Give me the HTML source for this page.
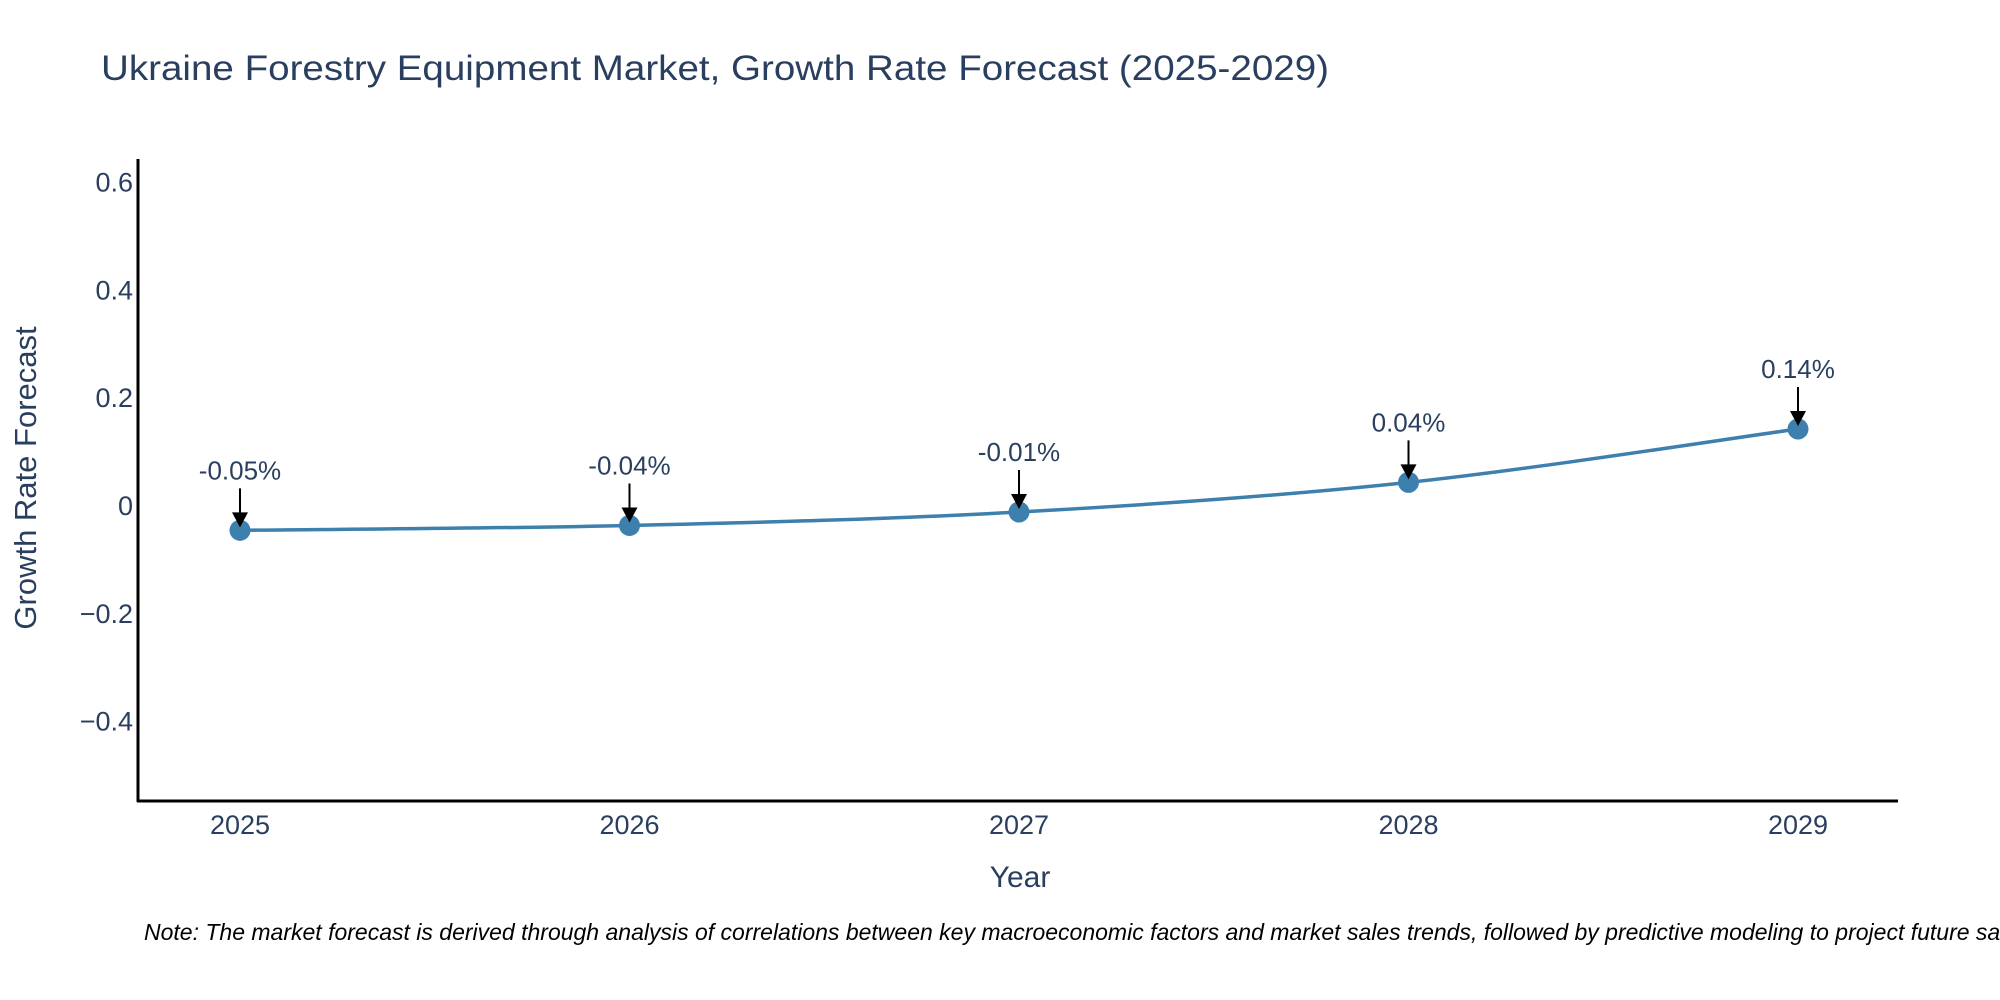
<!DOCTYPE html>
<html><head><meta charset="utf-8"><style>
html,body{margin:0;padding:0;background:#fff;}
svg{display:block;font-family:"Liberation Sans",sans-serif;}
</style></head><body>
<svg id="chart" width="2000" height="1000" viewBox="0 0 2000 1000">
<text x="101" y="80" font-size="35" fill="#2a3f5f" textLength="1228" lengthAdjust="spacingAndGlyphs">Ukraine Forestry Equipment Market, Growth Rate Forecast (2025-2029)</text>
<g id="yticks"></g>
<g id="xticks"></g>
<line x1="138" y1="159" x2="138" y2="802" stroke="#000" stroke-width="3"/>
<line x1="137" y1="801" x2="1898" y2="801" stroke="#000" stroke-width="3"/>
<text transform="translate(36,478) rotate(-90)" text-anchor="middle" font-size="31" fill="#2a3f5f">Growth Rate Forecast</text>
<text x="1020" y="887" text-anchor="middle" font-size="30" fill="#2a3f5f">Year</text>
<g id="series"></g>
<g id="annots"></g>
<text x="144" y="940" font-size="23" font-style="italic" fill="#000">Note: The market forecast is derived through analysis of correlations between key macroeconomic factors and market sales trends, followed by predictive modeling to project future sales.</text>
</svg>
<script>
const years = [2025, 2026, 2027, 2028, 2029];
const values = [-0.047, -0.038, -0.013, 0.042, 0.141];
const labels = ["-0.05%", "-0.04%", "-0.01%", "0.04%", "0.14%"];
const yTicks = [-0.4, -0.2, 0, 0.2, 0.4, 0.6];
const yTickLabels = ["\u22120.4", "\u22120.2", "0", "0.2", "0.4", "0.6"];

const NS = "http://www.w3.org/2000/svg";
function xs(v){ return 240 + (v - 2025) * (1798 - 240) / 4; }
function ys(v){ return 505 - v * 539; }
function mk(tag, attrs, parent){ const e = document.createElementNS(NS, tag); for (const k in attrs) e.setAttribute(k, attrs[k]); parent.appendChild(e); return e; }

const yg = document.getElementById('yticks');
yTicks.forEach((t, i) => {
  const e = mk('text', {x: 133, y: ys(t) + 10, 'text-anchor': 'end', 'font-size': 27, fill: '#2a3f5f'}, yg);
  e.textContent = yTickLabels[i];
  
  
});
const xg = document.getElementById('xticks');
years.forEach(y => {
  const e = mk('text', {x: xs(y), y: 834, 'text-anchor': 'middle', 'font-size': 27, fill: '#2a3f5f'}, xg);
  e.textContent = String(y);
  
  
});

const pts = years.map((y, i) => [xs(y), ys(values[i])]);
let d = 'M' + pts[0][0] + ',' + pts[0][1];
for (let i = 0; i < pts.length - 1; i++) {
  const p0 = pts[Math.max(i - 1, 0)], p1 = pts[i], p2 = pts[i + 1], p3 = pts[Math.min(i + 2, pts.length - 1)];
  const c1 = [p1[0] + (p2[0] - p0[0]) / 6, p1[1] + (p2[1] - p0[1]) / 6];
  const c2 = [p2[0] - (p3[0] - p1[0]) / 6, p2[1] - (p3[1] - p1[1]) / 6];
  d += ' C' + c1.join(',') + ' ' + c2.join(',') + ' ' + p2.join(',');
}
const sg = document.getElementById('series');
const line = mk('path', {d: d, fill: 'none', stroke: '#3d7fad', 'stroke-width': 3.5}, sg);


pts.forEach(p => {
  const c = mk('circle', {cx: p[0], cy: p[1], r: 10.5, fill: '#3d7fad'}, sg);
  
  
});

const ag = document.getElementById('annots');
pts.forEach((p, i) => {
  const x = p[0], y = p[1];
  const l = mk('line', {x1: x, y1: y - 42, x2: x, y2: y - 14, stroke: '#000', 'stroke-width': 2}, ag);
  
  
  const h = mk('polygon', {points: (x - 8) + ',' + (y - 18) + ' ' + (x + 8) + ',' + (y - 18) + ' ' + x + ',' + (y - 3), fill: '#000'}, ag);
  
  
  const t = mk('text', {x: x, y: y - 51, 'text-anchor': 'middle', 'font-size': 26, fill: '#2a3f5f'}, ag);
  t.textContent = labels[i];
  
  
});
</script>
</body></html>
